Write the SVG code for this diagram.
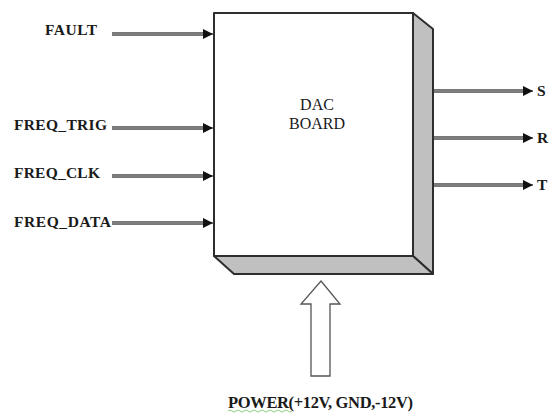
<svg xmlns="http://www.w3.org/2000/svg" width="552" height="415" viewBox="0 0 552 415">
<defs>
<style>
text{font-family:'Liberation Serif','Times New Roman',Times,'DejaVu Serif',serif}
.lbl{font-weight:bold;font-size:15.5px;fill:#1a1a1a}
.ttl{font-size:16px;fill:#1a1a1a}
.outer{stroke:#4a4a4a;stroke-width:3.6;fill:none}
.inner{stroke:#b0b0b0;stroke-width:1.2;fill:none}
.box{stroke:#2e2e2e;stroke-width:2;stroke-linejoin:round}
</style>
<marker id="ah" viewBox="0 0 10 10" refX="10" refY="5" markerWidth="10" markerHeight="10" markerUnits="userSpaceOnUse" orient="auto">
<path d="M0,0 L10,5 L0,10 z" fill="#111"/>
</marker>
</defs>
<rect width="552" height="415" fill="#fff"/>
<g id="dac-board">
<polygon class="box" points="413,13 433,29 433,274 413,256" fill="#c0c0c0"/>
<polygon class="box" points="214,256 413,256 433,274 234,274" fill="#c0c0c0"/>
<rect class="box" x="214" y="13" width="199" height="243" fill="#fff"/>
<text class="ttl" x="317" y="109.5" text-anchor="middle">DAC</text>
<text class="ttl" x="317" y="128.5" text-anchor="middle">BOARD</text>
</g>
<g id="connectors">
<line class="outer" x1="112" y1="34" x2="205" y2="34"/><line class="inner" x1="112" y1="34" x2="205" y2="34"/>
<line x1="204" y1="34" x2="213" y2="34" stroke="#111" stroke-width="1" marker-end="url(#ah)"/>
<line class="outer" x1="112" y1="128" x2="205" y2="128"/><line class="inner" x1="112" y1="128" x2="205" y2="128"/>
<line x1="204" y1="128" x2="213" y2="128" stroke="#111" stroke-width="1" marker-end="url(#ah)"/>
<line class="outer" x1="112" y1="176" x2="205" y2="176"/><line class="inner" x1="112" y1="176" x2="205" y2="176"/>
<line x1="204" y1="176" x2="213" y2="176" stroke="#111" stroke-width="1" marker-end="url(#ah)"/>
<line class="outer" x1="112" y1="223" x2="205" y2="223"/><line class="inner" x1="112" y1="223" x2="205" y2="223"/>
<line x1="204" y1="223" x2="213" y2="223" stroke="#111" stroke-width="1" marker-end="url(#ah)"/>
<line class="outer" x1="434" y1="91" x2="525" y2="91"/><line class="inner" x1="434" y1="91" x2="525" y2="91"/>
<line x1="524" y1="91" x2="533" y2="91" stroke="#111" stroke-width="1" marker-end="url(#ah)"/>
<line class="outer" x1="434" y1="138" x2="525" y2="138"/><line class="inner" x1="434" y1="138" x2="525" y2="138"/>
<line x1="524" y1="138" x2="533" y2="138" stroke="#111" stroke-width="1" marker-end="url(#ah)"/>
<line class="outer" x1="434" y1="185" x2="525" y2="185"/><line class="inner" x1="434" y1="185" x2="525" y2="185"/>
<line x1="524" y1="185" x2="533" y2="185" stroke="#111" stroke-width="1" marker-end="url(#ah)"/>
</g>
<g id="power-arrow">
<polygon points="321,281 340,304 330,304 330,376 311,376 311,304 301,304" fill="#fff" stroke="#555" stroke-width="1.3" stroke-linejoin="miter"/>
</g>
<g id="labels">
<text class="lbl" x="45" y="35" textLength="52">FAULT</text>
<text class="lbl" x="14" y="130" textLength="93">FREQ_TRIG</text>
<text class="lbl" x="14" y="178" textLength="86">FREQ_CLK</text>
<text class="lbl" x="14" y="227" textLength="97">FREQ_DATA</text>
<text class="lbl" x="537" y="96">S</text>
<text class="lbl" x="537" y="143">R</text>
<text class="lbl" x="537" y="190">T</text>
<text class="lbl" x="228" y="408" style="font-size:16.5px" textLength="185">POWER(+12V, GND,-12V)</text>
<path d="M228,411 q2,-2 4,0 t4,0 t4,0 t4,0 t4,0 t4,0 t4,0 t4,0 t4,0 t4,0 t4,0 t4,0 t4,0 t4,0 t4,0 t4,0" fill="none" stroke="#6cbf5c" stroke-width="0.8"/>
</g>
</svg>
